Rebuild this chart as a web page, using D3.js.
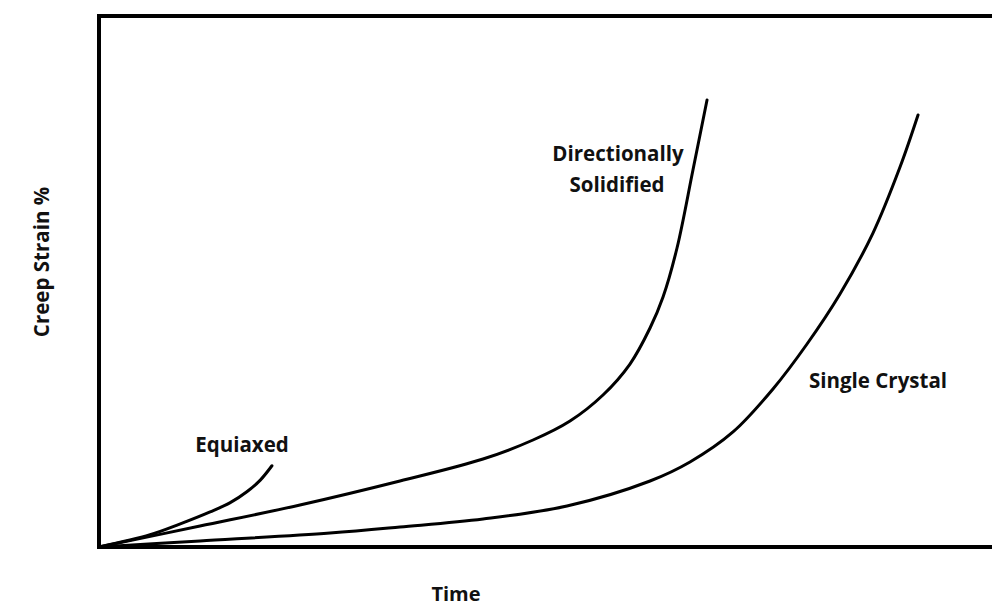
<!DOCTYPE html>
<html lang="en">
<head>
    <meta charset="UTF-8">
    <title>Creep Strain vs Time</title>
    <script src="https://cdn.jsdelivr.net/npm/d3@7"></script>
    <style>
        body{margin:0;background:#fff;}
        text{font-family:"Open Sans",sans-serif;font-weight:bold;fill:#111;}
    </style>
</head>
<body>
<script>
    var width=992;
    var height=607;

    // curve data (time, creep strain) in arbitrary 0-100 units
    var equiaxedTime=[0,5.7,9.0,12.4,14.6,16.5,18.0,19.3];
    var equiaxedStrain=[0,2.3,4.3,6.6,8.3,10.4,12.6,15.3];
    var dsTime=[0,11.27,22.43,33.59,42.86,48.44,52.57,56.25,59.26,61.50,62.95,64.51,66.29,67.86];
    var dsStrain=[0,3.95,7.91,12.43,16.57,20.15,23.73,28.63,34.46,41.24,47.08,56.31,71.00,84.18];
    var scTime=[0,11.27,25.78,33.59,42.86,52.23,61.50,65.96,70.76,75.22,79.02,82.70,86.38,89.40,91.41];
    var scStrain=[0,1.13,2.64,3.77,5.27,7.72,12.43,16.01,21.66,29.76,38.23,47.65,59.13,71.56,81.36];

    var svg=d3.select("body").append("svg").attr("width",width).attr("height",height);

    var xScale=d3.scaleLinear().domain([0,100]).range([99,995]);
    var yScale=d3.scaleLinear().domain([0,100]).range([547,16]);

    // frame
    svg.append("rect")
        .attr("x",xScale(0)).attr("y",yScale(100))
        .attr("width",xScale(100)-xScale(0)).attr("height",yScale(0)-yScale(100))
        .attr("fill","none").attr("stroke","#000").attr("stroke-width",4);

    var line=d3.line()
        .x(function(d){return xScale(d[0]);})
        .y(function(d){return yScale(d[1]);})
        .curve(d3.curveCatmullRom.alpha(0.5));

    [[equiaxedTime,equiaxedStrain],[dsTime,dsStrain],[scTime,scStrain]].forEach(function(s){
        var pts=s[0].map(function(t,i){return [t,s[1][i]];});
        svg.append("path").datum(pts)
            .attr("d",line)
            .attr("fill","none").attr("stroke","#000").attr("stroke-width",3)
            .attr("stroke-linecap","round");
    });

    // labels
    var labels=[
        {text:"Equiaxed",x:242,y:452},
        {text:"Directionally",x:618,y:161},
        {text:"Solidified",x:617,y:192},
        {text:"Single Crystal",x:878,y:388}
    ];
    svg.selectAll("text.lab").data(labels).enter().append("text")
        .attr("class","lab")
        .attr("x",function(d){return d.x;}).attr("y",function(d){return d.y;})
        .attr("text-anchor","middle").attr("font-size",20.5)
        .text(function(d){return d.text;});

    svg.append("text").attr("x",456).attr("y",601)
        .attr("text-anchor","middle").attr("font-size",20).text("Time");
    svg.append("text").attr("transform","translate(49,262) rotate(-90)")
        .attr("text-anchor","middle").attr("font-size",20.5).text("Creep Strain %");
</script>
</body>
</html>
